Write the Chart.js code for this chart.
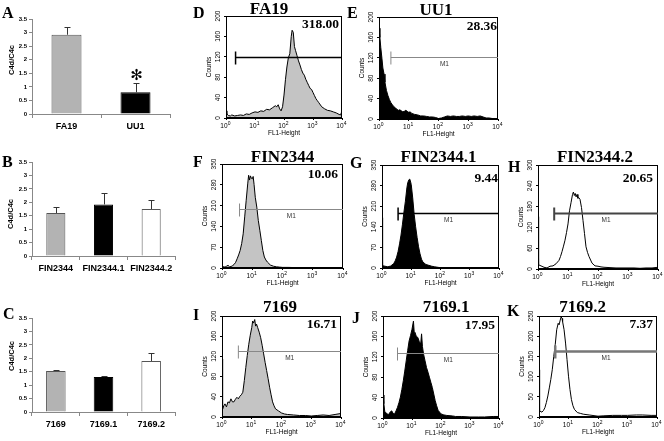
<!DOCTYPE html>
<html><head><meta charset="utf-8">
<script src="https://cdn.jsdelivr.net/npm/chart.js@4.4.0/dist/chart.umd.min.js"></script>
<style>
html,body{margin:0;padding:0;background:#fff;}
body{width:664px;height:441px;position:relative;overflow:hidden;}
</style></head><body>
<script>
// ---------------- DATA ----------------
const barCatsA = ['FA19', 'UU1'];
const barValsA = [2.92, 0.80];
const barErrA  = [0.30, 0.33];
const barCatsB = ['FIN2344', 'FIN2344.1', 'FIN2344.2'];
const barValsB = [1.60, 1.92, 1.75];
const barErrB  = [0.24, 0.41, 0.33];
const barCatsC = ['7169', '7169.1', '7169.2'];
const barValsC = [1.53, 1.30, 1.90];
const barErrC  = [0.04, 0.05, 0.28];
const barTickLabels = ['0', '0.5', '1', '1.5', '2', '2.5', '3', '3.5'];
const logTickBase = '10';
const logTickExp = ['0', '1', '2', '3', '4'];

const histNames  = ['FA19', 'UU1', 'FIN2344', 'FIN2344.1', 'FIN2344.2', '7169', '7169.1', '7169.2'];
const histLetters = ['D', 'E', 'F', 'G', 'H', 'I', 'J', 'K'];
const histValues = ['318.00', '28.36', '10.06', '9.44', '20.65', '16.71', '17.95', '7.37'];
const gateStarts = [0.33, 0.40, 0.58, 0.55, 0.54, 0.55, 0.50, 0.55];
const gateLevels = [120, 122, 198, 186, 161, 131, 128, 163];
const histYMax   = [200, 200, 350, 350, 300, 200, 200, 250];

// [log10 fluorescence, counts]
const histFA19 = [[0,14],[0.03,8],[0.08,5],[0.15,4],[0.2,6],[0.3,4],[0.4,5],[0.5,6],[0.6,5],[0.7,8],[0.8,7],[0.9,10],[1.0,12],[1.1,11],[1.2,14],[1.3,13],[1.4,17],[1.5,16],[1.6,20],[1.7,24],[1.75,22],[1.8,26],[1.85,18],[1.9,14],[1.95,22],[2.0,45],[2.05,75],[2.1,100],[2.15,118],[2.2,126],[2.25,160],[2.28,172],[2.32,168],[2.36,140],[2.4,132],[2.45,122],[2.5,112],[2.55,104],[2.6,95],[2.65,88],[2.7,84],[2.75,76],[2.8,70],[2.85,64],[2.9,58],[2.95,56],[3.0,50],[3.05,44],[3.1,38],[3.15,34],[3.2,30],[3.3,22],[3.4,18],[3.5,15],[3.6,14],[3.7,12],[3.8,10],[3.9,7],[3.95,6],[4.0,14]];
const histUU1 = [[0,178],[0.03,160],[0.06,140],[0.1,118],[0.13,100],[0.17,88],[0.2,72],[0.25,56],[0.3,46],[0.35,38],[0.4,32],[0.45,28],[0.5,24],[0.55,22],[0.6,19],[0.65,17],[0.7,18],[0.75,16],[0.8,14],[0.85,15],[0.9,17],[0.95,15],[1.0,13],[1.05,14],[1.1,11],[1.2,9],[1.3,8],[1.4,6],[1.5,6],[1.6,5],[1.7,4],[1.8,4],[1.9,3],[2.0,1],[2.1,2],[2.2,4],[2.3,6],[2.4,5],[2.5,6],[2.6,5],[2.7,5],[2.8,6],[2.9,5],[3.0,6],[3.1,5],[3.2,6],[3.3,5],[3.4,6],[3.5,4],[3.6,2],[3.7,2],[3.8,1],[3.9,1],[4.0,0]];
const histFIN2344 = [[0,5],[0.1,3],[0.15,6],[0.2,9],[0.25,4],[0.3,5],[0.35,8],[0.4,12],[0.45,19],[0.5,31],[0.55,44],[0.6,59],[0.65,82],[0.7,115],[0.75,172],[0.8,228],[0.85,283],[0.88,312],[0.91,296],[0.94,310],[0.97,302],[1.0,300],[1.03,308],[1.06,281],[1.1,238],[1.15,205],[1.2,160],[1.25,127],[1.3,93],[1.35,59],[1.4,37],[1.45,27],[1.5,20],[1.6,10],[1.7,6],[1.8,4],[1.9,3],[2.0,2],[2.2,2],[2.5,1],[3.0,0],[3.5,0],[4.0,0]];
const histFIN2344_1 = [[0,171],[0.02,8],[0.1,6],[0.2,4],[0.3,7],[0.4,15],[0.45,24],[0.5,37],[0.55,56],[0.6,82],[0.65,112],[0.7,149],[0.75,190],[0.8,227],[0.85,272],[0.88,290],[0.92,300],[0.95,302],[0.98,292],[1.0,283],[1.05,238],[1.1,182],[1.15,140],[1.2,104],[1.25,72],[1.3,48],[1.35,30],[1.4,20],[1.5,12],[1.6,9],[1.7,6],[1.8,4],[2.0,1],[2.5,1],[3.0,0],[4.0,0]];
const histFIN2344_2 = [[0,151],[0.02,12],[0.1,9],[0.2,5],[0.3,3],[0.4,8],[0.5,9],[0.6,15],[0.7,25],[0.75,36],[0.8,50],[0.85,66],[0.9,83],[0.95,105],[1.0,130],[1.05,168],[1.1,191],[1.15,215],[1.18,222],[1.21,212],[1.24,218],[1.27,208],[1.3,215],[1.33,204],[1.36,206],[1.4,201],[1.45,177],[1.5,140],[1.55,102],[1.6,64],[1.65,48],[1.7,36],[1.8,17],[1.9,9],[2.0,8],[2.1,6],[2.2,5],[2.4,4],[2.6,3],[2.8,3],[3.0,3],[3.2,3],[3.4,2],[3.6,3],[3.8,3],[4.0,5]];
const hist7169 = [[0,115],[0.02,16],[0.06,22],[0.1,26],[0.15,20],[0.2,30],[0.25,28],[0.3,36],[0.35,30],[0.4,30],[0.45,35],[0.5,39],[0.55,36],[0.6,41],[0.65,44],[0.7,49],[0.75,72],[0.8,98],[0.85,122],[0.9,144],[0.95,162],[1.0,177],[1.03,190],[1.06,186],[1.1,193],[1.13,180],[1.16,184],[1.2,177],[1.25,168],[1.3,157],[1.35,142],[1.4,125],[1.45,108],[1.5,92],[1.55,76],[1.6,59],[1.65,44],[1.7,30],[1.75,22],[1.8,16],[1.9,12],[2.0,8],[2.1,6],[2.2,5],[2.4,4],[2.6,3],[2.8,3],[3.0,2],[3.2,3],[3.4,4],[3.6,3],[3.8,5],[4.0,7]];
const hist7169_1 = [[0,45],[0.03,28],[0.06,13],[0.1,10],[0.15,8],[0.2,7],[0.25,12],[0.3,14],[0.35,9],[0.4,8],[0.45,14],[0.5,21],[0.55,30],[0.6,41],[0.65,56],[0.7,73],[0.75,92],[0.8,112],[0.85,132],[0.9,151],[0.95,162],[1.0,174],[1.05,190],[1.08,165],[1.1,168],[1.15,160],[1.2,158],[1.25,150],[1.3,145],[1.33,165],[1.36,140],[1.4,125],[1.45,112],[1.5,99],[1.55,90],[1.6,80],[1.65,70],[1.7,60],[1.75,47],[1.8,34],[1.85,24],[1.9,15],[2.0,8],[2.1,6],[2.2,5],[2.4,4],[2.5,3],[2.7,3],[3.0,2],[3.3,2],[3.5,2],[3.8,3],[4.0,3]];
const hist7169_2 = [[0,117],[0.02,15],[0.1,12],[0.15,16],[0.2,23],[0.25,36],[0.3,52],[0.35,72],[0.4,93],[0.45,117],[0.5,150],[0.55,179],[0.6,216],[0.65,232],[0.68,228],[0.72,240],[0.75,248],[0.78,244],[0.8,236],[0.85,216],[0.9,183],[0.95,142],[1.0,101],[1.05,68],[1.1,43],[1.15,28],[1.2,19],[1.3,11],[1.4,9],[1.5,7],[1.7,5],[2.0,2],[2.2,3],[2.5,4],[2.8,4],[3.0,4],[3.3,5],[3.5,5],[3.8,4],[4.0,4]];
const histSeries = [histFA19, histUU1, histFIN2344, histFIN2344_1, histFIN2344_2, hist7169, hist7169_1, hist7169_2];

// ---------------- LAYOUT / STYLE ----------------
const SANS = '"Liberation Sans", Arial, sans-serif';
const SERIF = '"Liberation Serif", "Times New Roman", serif';

const decoPlugin = {
  id: 'deco',
  afterDatasetsDraw(chart, args, o) {
    const ctx = chart.ctx, ca = chart.chartArea;
    const ox = o.ox, oy = o.oy;
    ctx.save();
    if (o.kind === 'hist') {
      const xs = chart.scales.x, ys = chart.scales.y;
      ctx.strokeStyle = '#000'; ctx.lineWidth = 1;
      ctx.strokeRect(Math.round(ca.left) + 0.5, Math.round(ca.top) + 0.5,
                     Math.round(ca.right - ca.left) - 1, Math.round(ca.bottom - ca.top) - 1);
      ctx.fillStyle = '#000';
      ctx.font = '6.5px ' + SANS;
      ctx.textAlign = 'center'; ctx.textBaseline = 'middle';
      ys.ticks.forEach(t => {
        const py = ys.getPixelForValue(t.value);
        ctx.save(); ctx.translate(ca.left - 8, py); ctx.rotate(-Math.PI / 2);
        ctx.fillText(String(t.value), 0, 0); ctx.restore();
      });
      ctx.save(); ctx.translate(ca.left - 17, (ca.top + ca.bottom) / 2); ctx.rotate(-Math.PI / 2);
      ctx.fillText('Counts', 0, 0); ctx.restore();
      ctx.fillText('FL1-Height', (ca.left + ca.right) / 2, ca.bottom + 15.5);
      ctx.textBaseline = 'alphabetic';
      xs.ticks.forEach(t => {
        const px = xs.getPixelForValue(t.value);
        ctx.font = '6.5px ' + SANS; ctx.textAlign = 'right';
        ctx.fillText(logTickBase, px + 1.5, ca.bottom + 10);
        ctx.font = '5px ' + SANS; ctx.textAlign = 'left';
        ctx.fillText(logTickExp[t.value], px + 1.8, ca.bottom + 7);
      });
      const gy = Math.round(ys.getPixelForValue(o.gateLevel)) + 0.5;
      const gx0 = xs.getPixelForValue(o.gateStart);
      ctx.strokeStyle = o.gateColor; ctx.lineWidth = o.gateWidth;
      ctx.beginPath(); ctx.moveTo(gx0, gy); ctx.lineTo(ca.right, gy);
      ctx.moveTo(gx0, gy - 6); ctx.lineTo(gx0, gy + 7); ctx.stroke();
      if (o.m1) {
        ctx.fillStyle = '#333'; ctx.font = '6.5px ' + SANS; ctx.textAlign = 'center'; ctx.textBaseline = 'middle';
        ctx.fillText('M1', (gx0 + ca.right) / 2, gy + 7);
      }
      ctx.fillStyle = '#000';
      ctx.font = 'bold 17px ' + SERIF; ctx.textAlign = 'center'; ctx.textBaseline = 'alphabetic';
      ctx.fillText(o.title, o.titleX - ox, o.titleY - oy);
      ctx.font = 'bold 13.5px ' + SERIF; ctx.textAlign = 'right';
      ctx.fillText(o.value, o.valX - ox, o.valY - oy);
    } else {
      const ys = chart.scales.y;
      const ds = chart.data.datasets[0];
      const meta = chart.getDatasetMeta(0);
      ctx.strokeStyle = '#333'; ctx.lineWidth = 1;
      meta.data.forEach((el, i) => {
        const x = Math.round(el.x) + 0.5;
        const y0 = ys.getPixelForValue(ds.data[i]);
        const y1 = Math.round(ys.getPixelForValue(ds.data[i] + ds.errors[i])) + 0.5;
        ctx.beginPath(); ctx.moveTo(x, y0); ctx.lineTo(x, y1);
        ctx.moveTo(x - 3, y1); ctx.lineTo(x + 3, y1); ctx.stroke();
        if (o.starIndex === i) {
          ctx.fillStyle = '#000'; ctx.font = 'bold 15px "DejaVu Sans", sans-serif';
          ctx.textAlign = 'center'; ctx.textBaseline = 'middle';
          ctx.fillText('\u273B', x, y1 - 7);
        }
      });
      ctx.fillStyle = '#000';
      ctx.font = 'bold 7.5px ' + SANS; ctx.textAlign = 'center'; ctx.textBaseline = 'middle';
      ctx.save(); ctx.translate(o.ytX - ox, o.ytY - oy); ctx.rotate(-Math.PI / 2);
      ctx.fillText('C4d/C4c', 0, 0); ctx.restore();
    }
    ctx.fillStyle = '#000';
    ctx.font = 'bold 16px ' + SERIF; ctx.textAlign = 'left'; ctx.textBaseline = 'alphabetic';
    ctx.fillText(o.letter, o.letterX - ox, o.letterY - oy);
    ctx.restore();
  }
};
Chart.register(decoPlugin);

function makeCanvas(x, y, w, h) {
  const c = document.createElement('canvas');
  c.width = w; c.height = h;
  c.style.cssText = 'position:absolute;left:' + x + 'px;top:' + y + 'px;width:' + w + 'px;height:' + h + 'px;';
  document.body.appendChild(c);
  return c;
}

const barLayout = [
  {cats: barCatsA, vals: barValsA, errs: barErrA, cx: 0, cy: 0, cw: 195, ch: 145, l: 32, t: 19, r: 170, b: 114,
   pct: 0.435, letter: 'A', letterX: 2, letterY: 18, ytX: 11.5, ytY: 60, star: 1,
   fill: ['#b3b3b3', '#000000'], border: ['#555', '#000']},
  {cats: barCatsB, vals: barValsB, errs: barErrB, cx: 0, cy: 145, cw: 193, ch: 150, l: 32, t: 162, r: 175, b: 256,
   pct: 0.4, letter: 'B', letterX: 2, letterY: 167, ytX: 10.5, ytY: 214, star: -1,
   fill: ['#b3b3b3', '#000000', '#ffffff'], border: ['#555', '#000', '#555']},
  {cats: barCatsC, vals: barValsC, errs: barErrC, cx: 0, cy: 295, cw: 193, ch: 146, l: 32, t: 318, r: 175, b: 412,
   pct: 0.41, letter: 'C', letterX: 3, letterY: 319, ytX: 11.5, ytY: 356, star: -1,
   fill: ['#b3b3b3', '#000000', '#ffffff'], border: ['#555', '#000', '#555']}
];

barLayout.forEach(p => {
  const cv = makeCanvas(p.cx, p.cy, p.cw, p.ch);
  new Chart(cv, {
    type: 'bar',
    data: { labels: p.cats, datasets: [{ data: p.vals, errors: p.errs, backgroundColor: p.fill,
      borderColor: p.border, borderWidth: 1, barPercentage: p.pct, categoryPercentage: 1 }] },
    options: {
      responsive: false, animation: false, devicePixelRatio: 1, events: [],
      layout: { padding: { left: 0, top: p.t - p.cy, right: p.cx + p.cw - p.r, bottom: 0 } },
      plugins: { legend: { display: false }, tooltip: { enabled: false },
        deco: { kind: 'bar', ox: p.cx, oy: p.cy, letter: p.letter, letterX: p.letterX, letterY: p.letterY,
                ytX: p.ytX, ytY: p.ytY, starIndex: p.star } },
      scales: {
        x: { grid: { offset: true, drawOnChartArea: false, tickLength: 4, color: '#888' },
             border: { color: '#888' },
             ticks: { font: { family: SANS, size: 9, weight: 'bold' }, color: '#000', padding: 3, maxRotation: 0, autoSkip: false },
             afterFit: s => { s.height = p.cy + p.ch - p.b; } },
        y: { min: 0, max: 3.5,
             ticks: { stepSize: 0.5, font: { family: SANS, size: 6, weight: 'bold' }, color: '#000', padding: 2,
                      callback: (v, i) => barTickLabels[i] },
             grid: { drawOnChartArea: false, tickLength: 3, color: '#888' },
             border: { color: '#888' },
             afterFit: s => { s.width = p.l - p.cx; } }
      }
    }
  });
});

const histLayout = [
  {cx: 193, cy: 0,   cw: 157, ch: 145, l: 226, t: 16,  r: 342, b: 118, lx: 193, ly: 18,  tx: 269,   ty: 14,  vx: 339, vy: 28,  fill: '#c4c4c4', gc: '#000', gw: 1.5, m1: false},
  {cx: 347, cy: 0,   cw: 163, ch: 145, l: 379, t: 17,  r: 498, b: 119, lx: 347, ly: 18,  tx: 436,   ty: 14.5, vx: 497, vy: 30,  fill: '#000', gc: '#888', gw: 1, m1: true},
  {cx: 193, cy: 145, cw: 157, ch: 150, l: 222, t: 164, r: 343, b: 268, lx: 193, ly: 167, tx: 282.5, ty: 162, vx: 338, vy: 178, fill: '#c4c4c4', gc: '#888', gw: 1, m1: true},
  {cx: 350, cy: 145, cw: 157, ch: 150, l: 382, t: 165, r: 499, b: 268, lx: 350, ly: 168, tx: 438.5, ty: 162, vx: 498, vy: 182, fill: '#000', gc: '#000', gw: 1.5, m1: true},
  {cx: 507, cy: 145, cw: 157, ch: 150, l: 538, t: 165, r: 658, b: 269, lx: 508, ly: 172, tx: 595,   ty: 162, vx: 653, vy: 182, fill: null, gc: '#444', gw: 2, m1: true},
  {cx: 193, cy: 295, cw: 157, ch: 146, l: 222, t: 316, r: 341, b: 417, lx: 193, ly: 320, tx: 280,   ty: 312, vx: 337, vy: 328, fill: '#c4c4c4', gc: '#888', gw: 1, m1: true},
  {cx: 350, cy: 295, cw: 157, ch: 146, l: 383, t: 316, r: 499, b: 418, lx: 352, ly: 323, tx: 446,   ty: 312, vx: 495, vy: 329, fill: '#000', gc: '#888', gw: 1, m1: true},
  {cx: 507, cy: 295, cw: 157, ch: 146, l: 539, t: 316, r: 657, b: 417, lx: 507, ly: 316, tx: 582.5, ty: 312, vx: 653, vy: 328, fill: null, gc: '#777', gw: 2.5, m1: true}
];

histLayout.forEach((p, k) => {
  const cv = makeCanvas(p.cx, p.cy, p.cw, p.ch);
  new Chart(cv, {
    type: 'line',
    data: { datasets: [{ data: histSeries[k].map(d => ({ x: d[0], y: d[1] })),
      borderColor: '#000', borderWidth: 1, backgroundColor: p.fill || 'rgba(0,0,0,0)',
      fill: p.fill ? 'origin' : false, pointRadius: 0, tension: 0 }] },
    options: {
      responsive: false, animation: false, devicePixelRatio: 1, events: [],
      layout: { padding: { left: 0, top: p.t - p.cy, right: p.cx + p.cw - p.r, bottom: 0 } },
      plugins: { legend: { display: false }, tooltip: { enabled: false },
        deco: { kind: 'hist', ox: p.cx, oy: p.cy, letter: histLetters[k], letterX: p.lx, letterY: p.ly,
                title: histNames[k], titleX: p.tx, titleY: p.ty, value: histValues[k], valX: p.vx, valY: p.vy,
                gateStart: gateStarts[k], gateLevel: gateLevels[k], gateColor: p.gc, gateWidth: p.gw, m1: p.m1 } },
      scales: {
        x: { type: 'linear', min: 0, max: 4,
             ticks: { stepSize: 1, display: false },
             grid: { drawOnChartArea: false, tickLength: 2, color: '#000' },
             border: { color: '#000' },
             afterFit: s => { s.height = p.cy + p.ch - p.b; } },
        y: { min: 0, max: histYMax[k],
             ticks: { stepSize: histYMax[k] / 5, display: false },
             grid: { drawOnChartArea: false, tickLength: 2, color: '#000' },
             border: { color: '#000' },
             afterFit: s => { s.width = p.l - p.cx; } }
      }
    }
  });
});
</script>
</body></html>
